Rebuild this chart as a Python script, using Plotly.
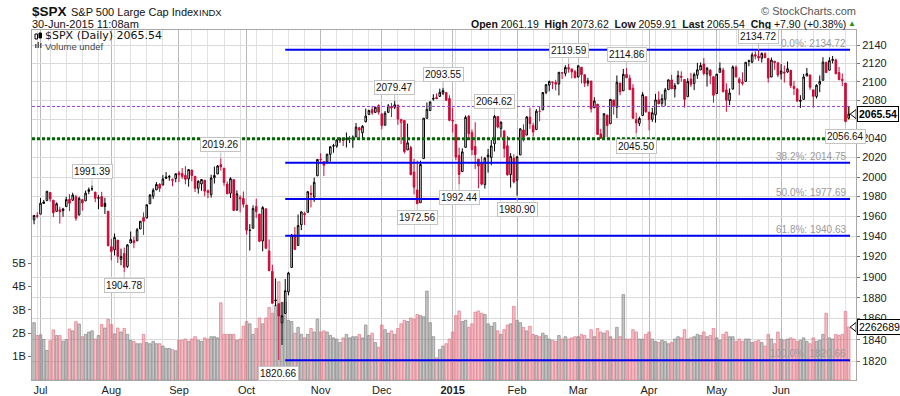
import math
import pandas as pd
import plotly.graph_objects as go

# ---------------- trading calendar (categories) ----------------
HOLIDAYS = ["2014-07-04", "2014-09-01", "2014-11-27", "2014-12-25",
            "2015-01-01", "2015-01-19", "2015-02-16", "2015-04-03", "2015-05-25"]
dates = [d for d in pd.bdate_range("2014-06-27", "2015-06-30")
         if d.strftime("%Y-%m-%d") not in HOLIDAYS]

# ---------------- daily OHLC ----------------
opens = [
    1956.56, 1960.79,
    1962.29, 1973.06, 1975.88, 1984.22, 1976.39, 1965.10, 1966.67, 1965.76, 1969.86, 1977.36, 1976.35,
    1979.75, 1961.54, 1976.93, 1975.65, 1985.32, 1988.07, 1984.60, 1978.25, 1980.03, 1973.21, 1965.14,
    1929.80, 1926.62, 1936.34, 1917.29, 1923.03, 1910.35, 1933.43, 1935.73, 1935.60, 1947.41, 1958.87,
    1958.36, 1972.73, 1980.46, 1986.82, 1992.60, 1991.74, 1998.59, 2000.54, 1997.42, 1998.45,
    2004.07, 2003.57, 2001.67, 1998.00, 2007.17, 2000.73, 1988.41, 1992.85, 1996.74, 1986.04, 1981.93,
    1999.30, 2003.07, 2012.74, 2009.08, 1992.78, 1983.34, 1997.32, 1966.22, 1978.96, 1978.21,
    1971.44, 1945.83, 1948.12, 1970.01, 1962.36, 1935.55, 1967.68, 1925.63, 1905.65, 1877.11, 1874.18,
    1855.95, 1864.91, 1885.62, 1909.38, 1941.29, 1931.02, 1951.59, 1962.97, 1964.14, 1983.29, 1979.49, 2001.20,
    2018.21, 2015.81, 2015.29, 2023.33, 2032.36, 2032.01, 2038.20, 2037.75, 2039.21, 2039.74, 2038.29,
    2041.48, 2051.16, 2045.87, 2057.46, 2065.07, 2070.15, 2067.36, 2074.78,
    2065.78, 2053.77, 2067.45, 2073.64, 2072.78, 2074.84, 2056.55, 2058.86, 2027.92, 2030.36, 2005.03,
    1986.71, 1973.77, 2018.98, 2061.04, 2069.28, 2081.48, 2083.25, 2084.30, 2087.63, 2088.49, 2082.11,
    2058.90, 2054.44, 2022.15, 2005.55, 2030.61, 2063.45, 2046.13, 2031.58, 2018.40, 2013.75, 1992.25,
    2020.76, 2020.19, 2034.30, 2062.98, 2050.42, 2047.86, 2032.34, 2002.45, 2019.35,
    1996.67, 2022.71, 2048.86, 2043.45, 2062.28, 2053.47, 2049.38, 2068.55, 2069.98, 2088.78, 2096.47,
    2099.16, 2099.25, 2097.65, 2109.83, 2109.10, 2115.30, 2113.91, 2110.88,
    2105.23, 2115.76, 2107.72, 2098.54, 2100.91, 2072.25, 2076.14, 2044.69, 2041.10, 2064.56, 2055.35,
    2080.59, 2072.84, 2098.69, 2090.32, 2107.99, 2103.94, 2093.10, 2059.94, 2055.78, 2064.11, 2084.05,
    2067.63, 2060.03, 2064.87, 2080.79, 2076.94, 2081.29, 2091.51, 2102.03, 2092.28, 2097.82, 2105.96,
    2102.58, 2084.11, 2102.82, 2098.27, 2107.21, 2112.80, 2119.29, 2108.35, 2112.49, 2105.52,
    2087.38, 2110.23, 2112.63, 2091.26, 2079.96, 2092.13, 2115.56, 2102.87, 2099.62, 2100.43, 2122.07,
    2121.30, 2129.45, 2127.79, 2125.55, 2130.36, 2125.34, 2105.13, 2122.27, 2120.66,
    2108.64, 2110.41, 2110.64, 2112.35, 2095.09, 2092.34, 2079.07, 2081.12, 2106.24, 2107.43, 2091.34,
    2084.26, 2097.40, 2101.58, 2121.06, 2112.50, 2123.16, 2123.65, 2109.96, 2102.62, 2098.63, 2061.19,
]
highs = [
    1961.47, 1964.24,
    1978.58, 1976.67, 1985.59, 1984.22, 1976.39, 1974.15, 1969.84, 1968.67, 1979.85, 1982.52, 1983.94,
    1981.80, 1979.91, 1976.93, 1986.24, 1989.23, 1991.39, 1984.60, 1981.52, 1984.85, 1978.90, 1965.14,
    1937.35, 1942.92, 1936.34, 1927.91, 1928.89, 1932.38, 1944.90, 1939.65, 1948.41, 1955.23, 1964.04,
    1971.99, 1982.57, 1988.57, 1994.76, 1993.54, 2001.95, 2005.04, 2002.14, 1998.55, 2003.38,
    2006.12, 2009.28, 2011.17, 2007.71, 2007.17, 2001.01, 1996.66, 1997.65, 1996.74, 1987.18, 2002.28,
    2010.74, 2012.34, 2019.26, 2009.08, 1995.41, 1999.79, 1997.32, 1986.37, 1981.28, 1985.17,
    1971.44, 1952.32, 1971.19, 1977.84, 1962.36, 1970.36, 1967.68, 1936.98, 1912.09, 1898.71, 1874.18,
    1876.01, 1898.16, 1905.03, 1942.45, 1949.31, 1961.95, 1965.27, 1964.64, 1985.05, 1991.40, 1999.40, 2018.19,
    2024.46, 2015.98, 2023.77, 2031.61, 2034.26, 2038.70, 2041.28, 2040.33, 2046.18, 2042.22, 2043.07,
    2056.08, 2052.14, 2053.84, 2071.46, 2070.17, 2074.21, 2073.29, 2075.76,
    2065.78, 2068.77, 2076.28, 2077.34, 2079.47, 2075.78, 2060.60, 2058.86, 2055.53, 2032.25, 2018.69,
    2016.89, 2016.75, 2061.23, 2077.85, 2078.76, 2086.73, 2087.56, 2092.70, 2093.55, 2088.49, 2085.58,
    2072.36, 2054.44, 2030.25, 2029.61, 2064.08, 2064.43, 2049.30, 2056.93, 2018.40, 2021.35, 2020.46,
    2028.94, 2038.29, 2064.62, 2062.98, 2057.62, 2047.86, 2042.49, 2024.64, 2023.32,
    2021.66, 2050.30, 2054.74, 2063.55, 2072.40, 2056.16, 2070.86, 2073.48, 2088.53, 2097.03, 2101.30,
    2100.23, 2102.13, 2110.61, 2110.05, 2117.94, 2119.59, 2113.91, 2112.74,
    2117.52, 2115.76, 2107.72, 2104.25, 2100.91, 2083.49, 2076.14, 2050.08, 2066.41, 2064.56, 2081.41,
    2080.59, 2106.85, 2098.69, 2113.92, 2114.86, 2107.63, 2097.43, 2067.15, 2062.83, 2088.97, 2084.05,
    2067.63, 2072.17, 2086.99, 2089.81, 2086.69, 2093.31, 2102.61, 2107.65, 2098.62, 2111.91, 2111.30,
    2102.58, 2103.94, 2109.64, 2109.98, 2120.49, 2120.92, 2125.92, 2116.04, 2113.65, 2105.52,
    2108.41, 2120.95, 2115.24, 2098.42, 2092.90, 2117.66, 2117.69, 2105.06, 2110.19, 2121.45, 2123.89,
    2131.78, 2133.02, 2134.72, 2131.80, 2132.15, 2125.34, 2126.22, 2122.27, 2120.66,
    2119.15, 2117.59, 2121.92, 2112.89, 2100.99, 2093.01, 2085.62, 2108.50, 2115.02, 2107.43, 2091.34,
    2097.40, 2106.79, 2126.65, 2121.64, 2126.59, 2128.03, 2125.10, 2116.04, 2108.92, 2098.63, 2073.62,
]
lows = [
    1952.18, 1958.22,
    1962.29, 1972.58, 1975.88, 1974.88, 1959.46, 1965.10, 1952.86, 1959.63, 1969.86, 1965.34, 1975.67,
    1955.59, 1960.82, 1965.77, 1975.65, 1982.44, 1985.79, 1974.37, 1967.31, 1969.95, 1962.42, 1930.67,
    1916.37, 1921.20, 1913.77, 1911.45, 1904.78, 1909.01, 1933.43, 1928.29, 1935.60, 1947.41, 1941.50,
    1958.36, 1972.73, 1977.68, 1986.82, 1984.76, 1991.74, 1998.59, 1996.20, 1990.52, 1994.65,
    1994.85, 1998.14, 1992.54, 1990.10, 1995.60, 1984.61, 1982.99, 1985.93, 1980.26, 1978.48, 1979.06,
    1993.29, 2003.07, 2006.59, 1991.01, 1982.77, 1978.63, 1965.99, 1966.22, 1964.04, 1968.96,
    1941.72, 1926.03, 1948.12, 1958.43, 1935.10, 1925.25, 1927.56, 1906.05, 1874.14, 1871.79, 1820.66,
    1835.02, 1864.91, 1882.30, 1909.38, 1926.83, 1931.02, 1946.27, 1951.37, 1964.14, 1969.04, 1974.75, 2001.20,
    2013.68, 2001.01, 2014.09, 2015.86, 2025.07, 2030.17, 2035.28, 2031.95, 2030.44, 2035.20, 2030.20,
    2041.48, 2040.37, 2040.49, 2056.75, 2065.07, 2064.75, 2066.62, 2065.06,
    2049.57, 2053.77, 2066.65, 2062.34, 2070.81, 2054.27, 2034.17, 2024.26, 2027.92, 2002.33, 1982.26,
    1972.56, 1973.77, 2018.98, 2061.03, 2069.28, 2079.77, 2081.86, 2084.30, 2085.75, 2079.53, 2057.94,
    2046.04, 2017.34, 1992.44, 2005.55, 2030.61, 2038.33, 2022.58, 2008.25, 1988.44, 1991.47, 1988.12,
    2004.49, 2012.04, 2026.38, 2050.54, 2040.97, 2019.91, 2001.49, 1989.18, 1993.38,
    1980.90, 2022.71, 2036.72, 2043.45, 2049.97, 2041.88, 2048.62, 2057.99, 2069.98, 2086.70, 2089.80,
    2092.15, 2090.79, 2085.44, 2103.00, 2105.87, 2109.89, 2103.76, 2103.75,
    2104.50, 2098.26, 2094.49, 2095.22, 2067.27, 2072.21, 2044.16, 2039.69, 2041.10, 2041.17, 2055.35,
    2065.08, 2061.23, 2085.56, 2090.32, 2104.42, 2091.50, 2061.05, 2045.50, 2052.96, 2064.11, 2067.04,
    2048.38, 2057.32, 2056.52, 2076.10, 2073.30, 2074.29, 2091.51, 2092.33, 2083.24, 2097.82, 2100.02,
    2072.37, 2084.11, 2094.38, 2091.05, 2103.19, 2112.80, 2107.04, 2094.89, 2097.41, 2077.59,
    2087.38, 2110.23, 2088.46, 2067.93, 2074.99, 2092.13, 2104.58, 2085.57, 2096.04, 2100.43, 2116.81,
    2120.01, 2124.50, 2122.59, 2120.88, 2126.06, 2099.18, 2105.13, 2112.86, 2104.89,
    2102.54, 2099.14, 2109.61, 2093.23, 2085.67, 2079.11, 2072.14, 2081.12, 2106.24, 2091.33, 2072.49,
    2082.10, 2088.86, 2101.58, 2109.45, 2112.50, 2119.89, 2108.58, 2101.78, 2095.38, 2056.64, 2059.91,
]
closes = [
    1960.96, 1960.23,
    1973.32, 1974.62, 1985.44, 1977.65, 1963.71, 1972.83, 1964.68, 1967.57, 1977.10, 1973.28, 1981.57,
    1958.12, 1978.22, 1973.63, 1983.53, 1987.01, 1987.98, 1978.34, 1978.91, 1969.95, 1970.07, 1930.67,
    1925.15, 1938.99, 1920.21, 1920.24, 1909.57, 1931.59, 1936.92, 1933.75, 1946.72, 1955.18, 1955.06,
    1971.74, 1981.60, 1986.51, 1992.37, 1988.40, 1997.92, 2000.02, 2000.12, 1996.74, 2003.37,
    2002.28, 2000.72, 1997.65, 2007.71, 2001.54, 1988.44, 1995.69, 1997.45, 1985.54, 1984.13, 1998.98,
    2001.57, 2011.36, 2010.40, 1994.29, 1982.77, 1998.30, 1965.99, 1982.85, 1977.80, 1972.29,
    1946.16, 1946.17, 1967.90, 1964.82, 1935.10, 1968.89, 1928.21, 1906.13, 1874.74, 1877.70, 1862.49,
    1862.76, 1886.76, 1904.01, 1941.28, 1927.11, 1950.82, 1964.58, 1961.63, 1985.05, 1982.30, 1994.65, 2018.05,
    2017.81, 2012.10, 2023.57, 2031.21, 2031.92, 2038.26, 2039.68, 2038.25, 2039.33, 2039.82, 2041.32,
    2051.80, 2048.72, 2052.75, 2063.50, 2069.41, 2067.03, 2072.83, 2067.56,
    2053.44, 2066.55, 2074.33, 2071.92, 2075.37, 2060.31, 2059.82, 2026.14, 2035.33, 2002.33, 1989.63,
    1972.74, 2012.89, 2061.23, 2070.65, 2078.54, 2082.17, 2081.88, 2088.77, 2090.57, 2080.35, 2058.90,
    2058.20, 2020.58, 2002.61, 2025.90, 2062.14, 2044.81, 2028.26, 2023.03, 2011.27, 1992.67, 2019.42,
    2022.55, 2032.12, 2063.15, 2051.82, 2057.09, 2029.55, 2002.16, 2021.25, 1994.99,
    2020.85, 2050.03, 2041.51, 2062.52, 2055.47, 2046.74, 2068.59, 2068.53, 2088.48, 2096.99, 2100.34,
    2099.68, 2097.45, 2110.30, 2109.66, 2115.48, 2113.86, 2110.74, 2104.50,
    2117.39, 2107.78, 2098.53, 2101.04, 2071.26, 2079.43, 2044.16, 2040.24, 2065.95, 2053.40, 2081.19,
    2074.28, 2099.50, 2089.27, 2108.10, 2104.42, 2091.50, 2061.05, 2056.15, 2061.02, 2086.24, 2067.89,
    2059.69, 2066.96, 2080.62, 2076.33, 2081.90, 2091.18, 2102.06, 2092.43, 2095.84, 2106.63, 2104.99,
    2081.18, 2100.40, 2097.29, 2107.96, 2112.93, 2117.69, 2108.92, 2114.76, 2106.85, 2085.51,
    2108.29, 2114.49, 2089.46, 2080.15, 2088.00, 2116.10, 2105.33, 2099.12, 2098.48, 2121.10, 2122.73,
    2129.20, 2127.83, 2125.85, 2130.82, 2126.06, 2104.20, 2123.48, 2120.79, 2107.39,
    2111.73, 2109.60, 2114.07, 2095.84, 2092.83, 2079.28, 2080.15, 2105.20, 2108.86, 2094.11, 2084.43,
    2096.29, 2100.44, 2121.24, 2109.99, 2122.85, 2124.20, 2108.58, 2102.31, 2101.49, 2057.64, 2065.54,
]
# volume in billions of shares
volumes = [
    2.45, 1.90,
    1.93, 1.73, 1.26, 1.68, 2.14, 1.90, 1.90, 1.66, 1.73, 2.18, 2.10,
    2.49, 2.39, 1.85, 1.95, 2.05, 2.10, 1.75, 1.90, 2.37, 2.22, 2.60,
    2.37, 1.97, 2.22, 2.05, 2.20, 1.95, 1.70, 1.65, 1.55, 1.55, 1.95,
    1.60, 1.55, 1.65, 1.55, 1.55, 1.45, 1.35, 1.35, 1.30, 1.25,
    1.70, 1.70, 1.75, 1.65, 1.75, 1.85, 1.70, 1.65, 1.80, 1.75, 1.85,
    1.85, 1.80, 3.30, 1.95, 1.95, 1.95, 1.95, 1.70, 1.75, 2.30,
    2.50, 2.40, 1.95, 2.20, 2.65, 2.40, 2.65, 3.10, 2.85, 3.20, 4.20,
    3.30, 3.35, 2.55, 2.50, 2.00, 2.25, 1.95, 1.80, 1.95, 2.20, 2.05, 2.60,
    2.05, 2.10, 2.05, 1.90, 1.80, 1.75, 1.60, 1.80, 1.95, 1.80, 1.85,
    1.85, 1.95, 1.80, 2.35, 1.90, 2.00, 1.60, 1.40,
    2.35, 2.15, 2.00, 2.10, 1.95, 2.20, 2.40, 2.55, 2.50, 2.65, 2.60,
    2.80, 2.75, 2.70, 3.80, 2.45, 1.85, 0.95, 1.30, 1.45, 1.55, 1.75,
    2.05, 2.75, 2.95, 2.50, 2.55, 2.25, 2.40, 2.90, 2.95, 2.85, 2.80,
    2.40, 2.30, 2.45, 2.10, 1.95, 2.15, 2.35, 2.40, 3.15,
    2.55, 2.45, 2.25, 2.10, 2.30, 1.95, 1.90, 1.85, 2.00, 1.90, 1.75,
    1.70, 1.65, 1.90, 1.75, 1.85, 1.75, 1.80, 1.85,
    1.85, 1.95, 1.90, 1.75, 2.15, 1.85, 2.20, 2.05, 2.00, 2.10, 1.85,
    1.75, 2.25, 1.85, 3.65, 1.75, 1.75, 2.15, 2.05, 1.75, 1.75, 1.95,
    2.05, 1.75, 1.65, 1.60, 1.70, 1.65, 1.55, 1.60, 1.75, 1.85, 1.80,
    2.15, 1.75, 1.80, 1.85, 1.95, 1.90, 2.05, 1.85, 1.90, 2.20,
    1.80, 1.70, 1.95, 2.05, 1.85, 1.85, 1.65, 1.75, 1.65, 1.75, 1.75,
    1.60, 1.65, 1.70, 1.60, 1.45, 1.95, 1.75, 1.55, 2.05,
    1.75, 1.70, 1.75, 1.80, 1.75, 1.65, 1.70, 1.80, 1.65, 1.55, 1.80,
    1.65, 1.70, 1.95, 2.85, 1.80, 1.75, 1.95, 1.90, 1.95, 2.93, 2.262689,
]
N = len(dates)
assert N == len(opens) == len(highs) == len(lows) == len(closes) == len(volumes), (
    N, len(opens), len(highs), len(lows), len(closes), len(volumes))

LAST_VOLUME_TEXT = "2262689"
FIB_PCTS = ["0.0%", "38.2%", "50.0%", "61.8%", "100.0%"]
FIB_LEVELS = [2134.72, 2014.75, 1977.69, 1940.63, 1820.66]
FIB_START = "2014-10-17"
SUPPORT_LEVEL = 2039.69       # green dotted line
DASHED_LEVEL = 2073.62        # purple dashed line
SWINGS = [  # (date, value, 'H' above / 'L' below)
    ("2014-07-24", 1991.39, "H"), ("2014-08-07", 1904.78, "L"), ("2014-09-19", 2019.26, "H"),
    ("2014-10-15", 1820.66, "L"), ("2014-12-05", 2079.47, "H"), ("2014-12-16", 1972.56, "L"),
    ("2014-12-29", 2093.55, "H"), ("2015-01-06", 1992.44, "L"), ("2015-01-22", 2064.62, "H"),
    ("2015-02-02", 1980.90, "L"), ("2015-02-25", 2119.59, "H"), ("2015-03-23", 2114.86, "H"),
    ("2015-03-26", 2045.50, "L"), ("2015-05-20", 2134.72, "H"), ("2015-06-29", 2056.64, "L"),
]
PRICE_TICKS = list(range(1820, 2141, 20))
HIDDEN_TICK = 2060           # covered by the last-price marker
VOL_TICKS = [1, 2, 3, 4, 5]
MONTH_NAMES = {1: "<b>2015</b>", 2: "Feb", 3: "Mar", 4: "Apr", 5: "May", 6: "Jun",
               7: "Jul", 8: "Aug", 9: "Sep", 10: "Oct", 11: "Nov", 12: "Dec"}

# ---------------- derived positions ----------------
pos = list(range(N))
dstr = [d.strftime("%Y-%m-%d") for d in dates]
pidx = {s: i for i, s in enumerate(dstr)}
prev_close = [closes[0]] + closes[:-1]

month_starts = [i for i in range(1, N) if dates[i].month != dates[i - 1].month]
week_starts = [i for i in range(1, N) if dates[i].isocalendar()[1] != dates[i - 1].isocalendar()[1]]

RED = "#cc0a36"
FONT = "Liberation Sans, Arial, sans-serif"

# plot area in pixels: x 32..856, y 30..380
def xp(px):
    return (px - 32) / 824.0

def yp(py):
    return (380 - py) / 350.0

fig = go.Figure()

# ---------------- volume (base axis) ----------------
down = [closes[i] < prev_close[i] for i in range(N)]
down[-1] = True
vol_fill = ["rgba(222,80,100,0.36)" if d else "rgba(120,120,120,0.42)" for d in down]
vol_line = ["rgba(226,125,140,0.9)" if d else "rgba(138,138,138,0.9)" for d in down]
fig.add_trace(go.Bar(x=pos, y=[v * 1e9 for v in volumes], width=0.8,
                     marker=dict(color=vol_fill, line=dict(color=vol_line, width=0.8)),
                     yaxis="y", hoverinfo="skip", showlegend=False))
# volume marker arrow
fig.add_trace(go.Scatter(x=[254.7], y=[volumes[-1] * 1e9], mode="markers", yaxis="y",
                         marker=dict(symbol="triangle-left", size=8, color="white",
                                     line=dict(color="black", width=1)),
                         cliponaxis=False, hoverinfo="skip", showlegend=False))

# ---------------- candles ----------------
def candle(idx, line_color, fill_color, o=None, h=None, l=None, c=None):
    o = o or opens
    h = h or highs
    l = l or lows
    c = c or closes
    style = dict(line=dict(color=line_color, width=1), fillcolor=fill_color)
    return go.Candlestick(x=[pos[i] for i in idx], open=[o[i] for i in idx],
                          high=[h[i] for i in idx], low=[l[i] for i in idx],
                          close=[c[i] for i in idx], increasing=style, decreasing=style,
                          whiskerwidth=0, yaxis="y2", hoverinfo="skip", showlegend=False)

body = range(N - 1)
hb = [i for i in body if closes[i] >= opens[i] and closes[i] >= prev_close[i]]
hr = [i for i in body if closes[i] >= opens[i] and closes[i] < prev_close[i]]
fb = [i for i in body if closes[i] < opens[i] and closes[i] >= prev_close[i]]
fr = [i for i in body if closes[i] < opens[i] and closes[i] < prev_close[i]]

# reference lines
fib_x, fib_y = [], []
for lv in FIB_LEVELS:
    fib_x += [pidx[FIB_START], pos[-1] + 0.4, None]
    fib_y += [lv, lv, None]
fig.add_trace(go.Scatter(x=[-0.64, pos[-1] + 0.4], y=[SUPPORT_LEVEL] * 2, mode="lines", yaxis="y2",
                         line=dict(color="#006400", width=3, dash="3px,2px"),
                         hoverinfo="skip", showlegend=False))
fig.add_trace(go.Scatter(x=[-0.64, pos[-1] + 0.4], y=[DASHED_LEVEL] * 2, mode="lines", yaxis="y2",
                         line=dict(color="#9a3fd6", width=1, dash="3px,2px"),
                         hoverinfo="skip", showlegend=False))
fig.add_trace(go.Scatter(x=fib_x, y=fib_y, mode="lines", yaxis="y2",
                         line=dict(color="#0000f0", width=2), hoverinfo="skip", showlegend=False))

fig.add_trace(candle(hb, "#000000", "#ffffff"))
fig.add_trace(candle(hr, RED, "#ffffff"))
fig.add_trace(candle(fb, "#000000", "#000000"))
fig.add_trace(candle(fr, RED, RED))
# highlighted last bar
last = [N - 1]
fig.add_trace(candle(last, "#e8e000", "#ffff55", o=lows, c=highs))
fig.add_trace(candle(last, "#000000", "#ffff55"))
# price marker arrow
fig.add_trace(go.Scatter(x=[254.7], y=[closes[-1]], mode="markers", yaxis="y2",
                         marker=dict(symbol="triangle-left", size=8, color="white",
                                     line=dict(color="black", width=1)),
                         cliponaxis=False, hoverinfo="skip", showlegend=False))

# ---------------- annotations ----------------
ann = []

def txt(text, px, py, size, anchor="left", color="#111", family=FONT):
    ann.append(dict(text=text, xref="paper", yref="paper", x=xp(px), y=yp(py),
                    xanchor=anchor, yanchor="middle", showarrow=False,
                    font=dict(size=size, color=color, family=family)))

txt("<b>$SPX</b>", 30, 11.5, 13.5)
txt("S&P 500 Large Cap Index", 69, 12, 11)
txt("INDX", 197, 12.5, 9.5)
txt("30-Jun-2015 11:08am", 30, 24, 11)
txt("© StockCharts.com", 858, 10.5, 11, anchor="right", color="#555")
chg = closes[-1] - closes[-2]
hdr = ("<b>Open</b> %.2f  <b>High</b> %.2f  <b>Low</b> %.2f  <b>Last</b> %.2f  <b>Chg</b> %+.2f (%+.2f%%)"
       % (opens[-1], highs[-1], lows[-1], closes[-1], chg, chg / closes[-2] * 100))
txt(hdr, 848, 24, 10.5, anchor="right")
txt("▲", 858, 23.5, 8, anchor="right", color="#1a9a1a")
txt("$SPX (Daily) %.2f" % closes[-1], 43, 36, 11, family="DejaVu Sans, Verdana, sans-serif")
txt("Volume undef", 43, 46, 9.5, color="#444")

for d, v, kind in SWINGS:
    up = kind == "H"
    ann.append(dict(text="%.2f" % v, x=pidx[d], y=math.log10(v), xref="x", yref="y2",
                    showarrow=True, arrowhead=0, arrowwidth=1, arrowcolor="#bdbdbd",
                    ax=0, ay=-6 if up else 6, yanchor="bottom" if up else "top",
                    bgcolor="white", bordercolor="#c4c4c4", borderwidth=1, borderpad=1,
                    font=dict(size=10, color="#111", family=FONT)))

for pct, lv in zip(FIB_PCTS, FIB_LEVELS):
    ann.append(dict(text="%s: %.2f" % (pct, lv), x=pos[-1] - 0.3, y=math.log10(lv),
                    xref="x", yref="y2", xanchor="right", yanchor="bottom", showarrow=False,
                    yshift=-1, font=dict(size=10, color="#9a9a9a", family=FONT)))

ann.append(dict(text="<b>%.2f</b>" % closes[-1], xref="paper", x=xp(857), xanchor="left",
                yref="y2", y=math.log10(closes[-1]), yanchor="middle", showarrow=False,
                bgcolor="white", bordercolor="black", borderwidth=1, borderpad=1,
                font=dict(size=10.5, color="black", family=FONT)))
ann.append(dict(text=LAST_VOLUME_TEXT, xref="paper", x=xp(857), xanchor="left",
                yref="y", y=volumes[-1] * 1e9, yanchor="middle", showarrow=False,
                bgcolor="white", bordercolor="black", borderwidth=1, borderpad=1,
                font=dict(size=10.5, color="black", family=FONT)))

# legend icons
shapes = [
    dict(type="rect", xref="paper", yref="paper", x0=xp(35), x1=xp(37.5), y0=yp(39), y1=yp(34),
         line=dict(color="black", width=1), fillcolor="white"),
    dict(type="rect", xref="paper", yref="paper", x0=xp(39), x1=xp(41.5), y0=yp(38), y1=yp(33),
         line=dict(color="black", width=1), fillcolor="black"),
    dict(type="rect", xref="paper", yref="paper", x0=xp(35), x1=xp(36.5), y0=yp(48), y1=yp(44),
         line=dict(width=0), fillcolor="#555"),
    dict(type="rect", xref="paper", yref="paper", x0=xp(37.5), x1=xp(39), y0=yp(48), y1=yp(42),
         line=dict(width=0), fillcolor="#555"),
    dict(type="rect", xref="paper", yref="paper", x0=xp(40), x1=xp(41.5), y0=yp(48), y1=yp(43),
         line=dict(width=0), fillcolor="#555"),
]

fig.update_layout(
    width=900, height=396, margin=dict(l=32, r=44, t=30, b=16, autoexpand=False),
    paper_bgcolor="white", plot_bgcolor="white", showlegend=False,
    font=dict(family=FONT, size=11, color="#111"),
    boxgap=0.3,
    xaxis=dict(range=[-0.64, 255.26], tickmode="array", tickvals=month_starts,
               ticktext=[MONTH_NAMES[dates[i].month] for i in month_starts],
               showgrid=True, gridcolor="#b9b9b9", gridwidth=1, ticks="", automargin=False,
               minor=dict(tickvals=week_starts, showgrid=True, gridcolor="#e1e1e1", ticks=""),
               showline=True, mirror=True, linecolor="#a8a8a8", zeroline=False,
               rangeslider=dict(visible=False), tickfont=dict(size=11, color="#222")),
    yaxis=dict(range=[0, 14.96e9], side="left", tickmode="array", automargin=False,
               tickvals=[v * 1e9 for v in VOL_TICKS], ticktext=["%dB" % v for v in VOL_TICKS],
               showgrid=False, zeroline=False, ticks="outside", ticklen=3, tickcolor="#777",
               showline=True, mirror=True, linecolor="#a8a8a8",
               tickfont=dict(size=11, color="#222")),
    yaxis2=dict(type="log", overlaying="y", side="right", automargin=False,
                range=[3.2558419, 3.3337528], tickmode="array", tickvals=PRICE_TICKS,
                ticktext=["" if t == HIDDEN_TICK else str(t) for t in PRICE_TICKS],
                showgrid=True, gridcolor="#d9d9d9",
                zeroline=False, ticks="outside", ticklen=3, tickcolor="#777",
                tickfont=dict(size=11, color="#222")),
    annotations=ann, shapes=shapes,
)

fig.write_html("out.html", config={"displayModeBar": False},
               post_script="document.body.style.margin='0px';document.body.style.padding='0px';")
